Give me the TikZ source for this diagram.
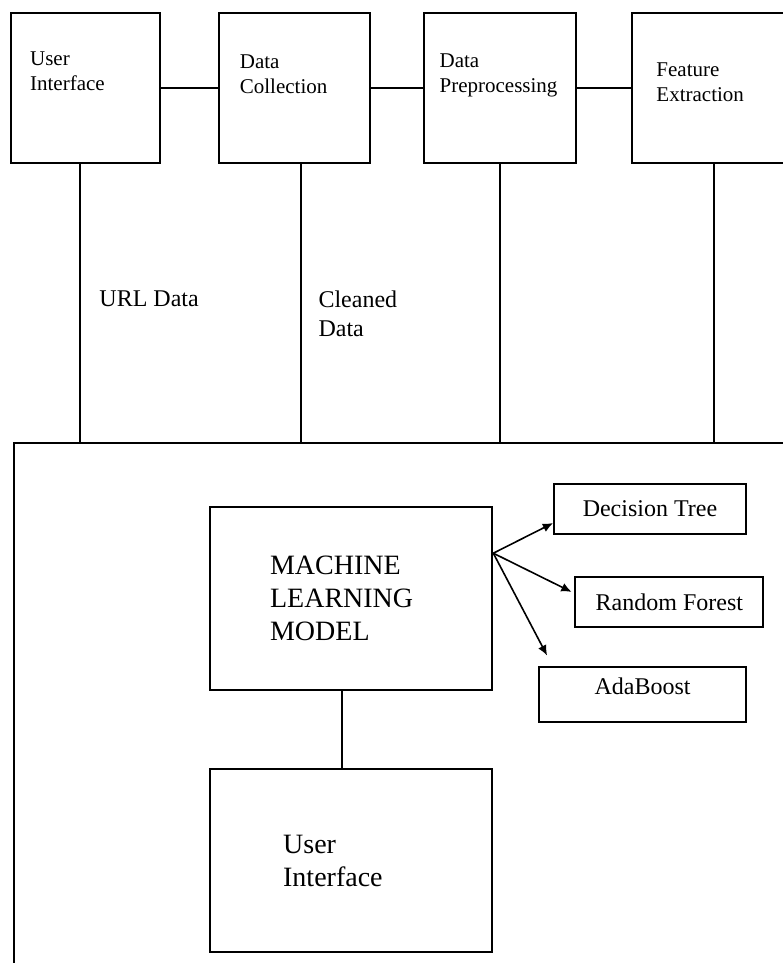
\documentclass[tikz,border=0pt]{standalone}
\usepackage{fontspec}
\setmainfont{Liberation Serif}
\usetikzlibrary{positioning,arrows.meta}

\begin{document}
\begin{tikzpicture}[
    stage/.style={draw, line width=1pt, minimum width=2.65cm, minimum height=2.64cm},
    stagetext/.style={inner sep=0pt, align=left, font=\fontsize{10.5}{12.5}\selectfont},
    flowtext/.style={inner sep=0pt, align=left, font=\fontsize{12}{14.5}\selectfont},
    block/.style={draw, line width=1pt, align=left, minimum width=4.96cm, minimum height=3.22cm, font=\fontsize{14}{16.5}\selectfont},
    algo/.style={draw, line width=1pt, minimum height=0.88cm, inner sep=0pt, font=\fontsize{12}{14}\selectfont},
    link/.style={line width=1pt},
    split/.style={line width=0.8pt, -{Latex[length=1.8mm, width=1.6mm]}}
]
\useasboundingbox (0,0) rectangle (13.74,-16.92);

% pipeline stages along the top
\node[stage, minimum width=2.62cm] (ui) at (1.50,-1.55) {};
\node[stage] (collect) at (5.18,-1.55) {};
\node[stage, minimum width=2.67cm] (prep) at (8.79,-1.55) {};
\node[stage, minimum width=2.67cm] (feat) at (12.44,-1.55) {};

\node[stagetext, below right=0.69cm and 0.35cm of ui.north west] (uitxt) {User\\Interface};
\node[stagetext, below right=0.74cm and 0.37cm of collect.north west] (collecttxt) {Data\\Collection};
\node[stagetext, below right=0.72cm and 0.28cm of prep.north west] (preptxt) {Data\\Preprocessing};
\node[stagetext, below right=0.88cm and 0.44cm of feat.north west] (feattxt) {Feature\\Extraction};

\draw[link] (ui) -- (collect);
\draw[link] (collect) -- (prep);
\draw[link] (prep) -- (feat);

% outer frame holding the model
\node[draw, line width=1pt, anchor=north west, minimum width=14cm, minimum height=9.5cm] (sys) at (0.23,-7.77) {};

\coordinate (uidrop) at ([xshift=-0.10cm]ui.south);
\coordinate (collectdrop) at ([xshift=0.10cm]collect.south);
\coordinate (prepdrop) at (prep.south);
\coordinate (featdrop) at ([xshift=0.10cm]feat.south);
\foreach \d in {uidrop,collectdrop,prepdrop,featdrop}
    \draw[link] (\d) -- (\d |- sys.north);

\node[flowtext, anchor=north west] (urltxt) at (1.74,-5.10) {URL Data};
\node[flowtext, anchor=north west] (cleantxt) at (5.59,-5.10) {Cleaned\\Data};

% model and front end
\node[block, text width=2.85cm] (ml) at (6.17,-10.52) {MACHINE\\LEARNING\\MODEL};
\node[block, text width=2.39cm] (front) at (6.17,-15.12) {User\\Interface};
\draw[link] ([xshift=-0.16cm]ml.south) -- ([xshift=-0.16cm]front.north);

% classifiers
\node[algo, minimum width=3.37cm] (dt) at (11.42,-8.94) {Decision Tree};
\node[algo, minimum width=3.30cm] (rf) at (11.76,-10.58) {Random Forest};
\node[algo, minimum width=3.64cm, minimum height=0.97cm, text depth=0.28cm] (ada) at (11.29,-12.20) {AdaBoost};

\coordinate (fork) at ([yshift=0.8cm]ml.east);
\draw[split] (fork) -- ([yshift=-0.25cm]dt.west);
\draw[split] (fork) -- ([shift={(-0.05,0.18)}]rf.west);
\draw[split] (fork) -- ([shift={(0.16,0.18)}]ada.north west);
\end{tikzpicture}
\end{document}
